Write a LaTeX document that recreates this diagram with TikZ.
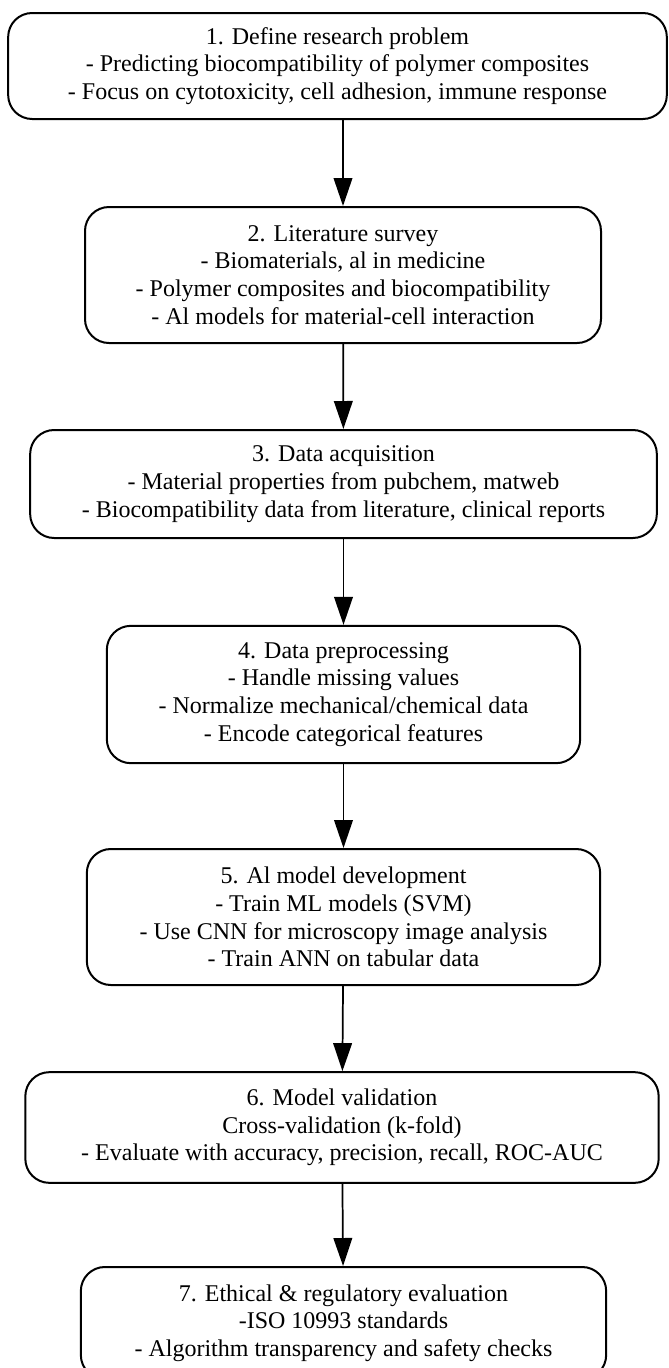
\documentclass[tikz,border=0pt]{standalone}
\usepackage{fontspec}
\setmainfont{Liberation Serif}
\usetikzlibrary{arrows.meta}
\tikzset{
	stagebox/.style={
			draw, line width=1.5pt, rounded corners=18pt, align=center,
			inner sep=0pt, font=\fontsize{18}{20.8}\selectfont
		},
	flow/.style={-{Triangle[length=21pt,width=14pt]}, line width=1.3pt}
}

\begin{document}
\begin{tikzpicture}[x=0.75pt, y=-0.75pt]
		\useasboundingbox (0, 0) rectangle (668, 1368);
		\node[stagebox, minimum width=494pt, minimum height=79.5pt] (define) at (337.5, 66) {1. Define research problem\\- Predicting biocompatibility of polymer composites\\- Focus on cytotoxicity, cell adhesion, immune response};
		\node[stagebox, minimum width=387pt, minimum height=102pt] (survey) at (343, 275) {2. Literature survey\\- Biomaterials, al in medicine\\- Polymer composites and biocompatibility\\- Al models for material-cell interaction};
		\node[stagebox, minimum width=470pt, minimum height=81pt] (acquire) at (343.5, 484) {3. Data acquisition\\- Material properties from pubchem, matweb\\- Biocompatibility data from literature, clinical reports};
		\node[stagebox, minimum width=355pt, minimum height=103pt] (prepro) at (343.5, 694.5) {4. Data preprocessing\\- Handle missing values\\- Normalize mechanical/chemical data\\- Encode categorical features};
		\node[stagebox, minimum width=385pt, minimum height=102pt] (develop) at (343.5, 917) {5. Al model development\\- Train ML models (SVM)\\- Use CNN for microscopy image analysis\\- Train ANN on tabular data};
		\node[stagebox, minimum width=475pt, minimum height=83pt] (validate) at (342, 1127.5) {6. Model validation\\Cross-validation (k-fold)\\- Evaluate with accuracy, precision, recall, ROC-AUC};
		\node[stagebox, minimum width=394pt, minimum height=84pt] (ethics) at (343.5, 1323) {7. Ethical \& regulatory evaluation\\-ISO 10993 standards\\- Algorithm transparency and safety checks};
		\draw[flow] (define.south -| survey) -- (survey.north);
		\draw[flow] (survey) -- (acquire);
		\draw[flow] (acquire) -- (prepro);
		\draw[flow] (prepro) -- (develop);
		\draw[flow] (develop) -- (validate);
		\draw[flow] (validate) -- (ethics);
	\end{tikzpicture}
\end{document}
